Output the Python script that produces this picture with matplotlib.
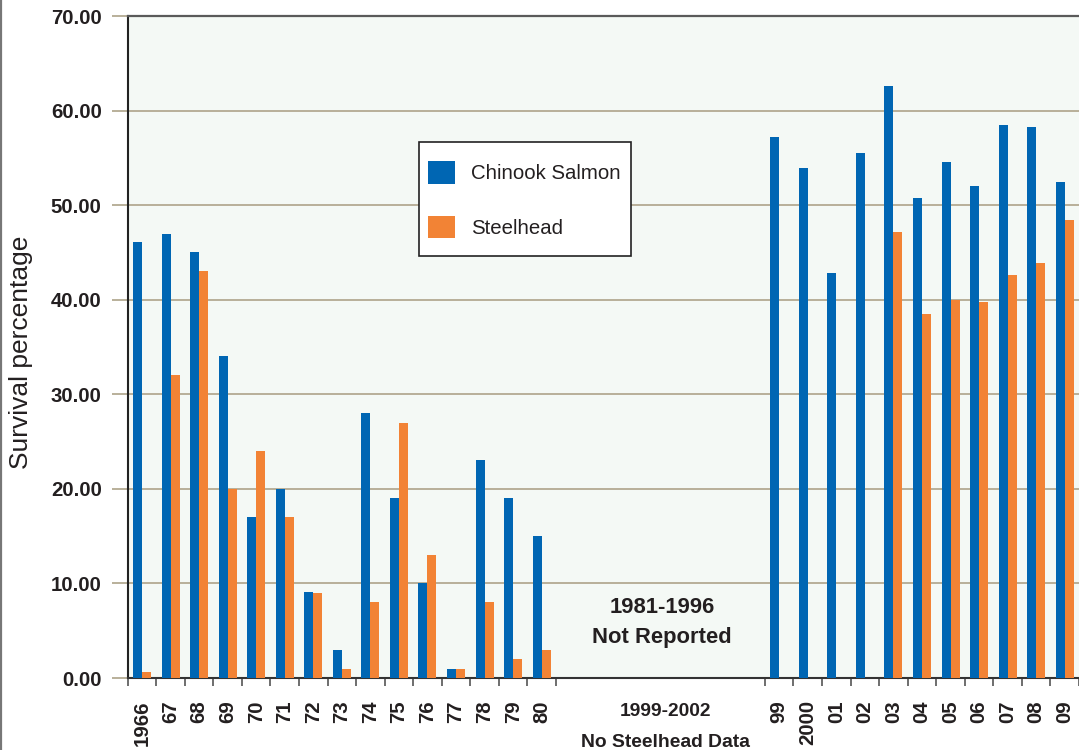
import numpy as np
import matplotlib
matplotlib.use("Agg")
import matplotlib.pyplot as plt
from matplotlib.patches import Patch, Rectangle
from matplotlib.lines import Line2D

plt.rcParams['font.family'] = ['Liberation Sans', 'DejaVu Sans']

# ---- data ----
years_early = ['1966', '67', '68', '69', '70', '71', '72', '73', '74', '75',
               '76', '77', '78', '79', '80']
chinook_early = [46.1, 47.0, 45.0, 34.0, 17.0, 20.0, 9.1, 3.0, 28.0, 19.0,
                 10.0, 1.0, 23.0, 19.0, 15.0]
steelhead_early = [0.6, 32.0, 43.0, 20.0, 24.0, 17.0, 9.0, 1.0, 8.0, 27.0,
                   13.0, 1.0, 8.0, 2.0, 3.0]
years_late = ['99', '2000', '01', '02', '03', '04', '05', '06', '07', '08', '09']
chinook_late = [57.2, 53.9, 42.8, 55.5, 62.6, 50.8, 54.6, 52.0, 58.5, 58.3, 52.4]
steelhead_late = [np.nan, np.nan, np.nan, np.nan, 47.2, 38.5, 40.0, 39.8,
                  42.6, 43.9, 48.4]
series_names = ['Chinook Salmon', 'Steelhead']
y_ticks = [0, 10, 20, 30, 40, 50, 60, 70]

# ---- style ----
BLUE = '#0066b3'
ORANGE = '#f28335'
TXT = '#231f20'
GRID = '#b3aa92'
BG = '#f4f9f5'
W, H = 1079, 750

fig = plt.figure(figsize=(W / 100, H / 100), dpi=100)
ax_l, ax_r, ax_t, ax_b = 127.7, 1079, 16, 678
ax = fig.add_axes([ax_l / W, 1 - ax_b / H, (ax_r - ax_l) / W, (ax_b - ax_t) / H])
ax.set_facecolor(BG)

gap_start = 22.32
pos_early = np.arange(len(years_early))
pos_late = gap_start + np.arange(len(years_late))
bw = 0.315

ax.bar(pos_early - bw / 2, chinook_early, width=bw, color=BLUE, zorder=3)
ax.bar(pos_early + bw / 2, steelhead_early, width=bw, color=ORANGE, zorder=3)
ax.bar(pos_late - bw / 2, chinook_late, width=bw, color=BLUE, zorder=3)
ax.bar(pos_late + bw / 2, steelhead_late, width=bw, color=ORANGE, zorder=3)

ax.set_xlim(-0.5, (ax_r - 142.0) / 28.65)
ax.set_ylim(0, 70)

# y axis
ax.set_yticks(y_ticks)
ax.set_yticklabels(['%.2f' % v for v in y_ticks], fontsize=14.7,
                   fontweight='bold', color=TXT)
ax.tick_params(axis='y', length=11.5, width=1.3, color=GRID, pad=7.2)
ax.yaxis.grid(True, color=GRID, linewidth=1.3, zorder=1)
ax.set_axisbelow(True)

# x axis: labels at slot centres, tick marks at slot boundaries
centers = np.concatenate([pos_early, pos_late])
ax.set_xticks(centers)
ax.set_xticklabels(years_early + years_late, rotation=90, fontsize=14.7,
                   fontweight='bold', color=TXT)
ax.tick_params(axis='x', which='major', length=0, pad=16)
bounds = np.concatenate([np.arange(len(years_early) + 1) - 0.5,
                         gap_start - 0.5 + np.arange(len(years_late) + 1)])
ax.set_xticks(bounds, minor=True)
ax.tick_params(axis='x', which='minor', length=6, width=1.2, color='#555555')

ax.spines['right'].set_visible(False)
ax.spines['top'].set_color('#5a5a5a')
ax.spines['top'].set_linewidth(1.6)
ax.spines['left'].set_color('#222222')
ax.spines['left'].set_linewidth(1.5)
ax.spines['bottom'].set_color('#333333')
ax.spines['bottom'].set_linewidth(1.5)

# y label
ax.set_ylabel('Survival percentage', fontsize=19, color=TXT, va='center')
ax.yaxis.set_label_coords((20.5 - ax_l) / (ax_r - ax_l), 0.5 - (352 - 347) / 662)

# annotations
xmid = (664 - 142.0) / 28.65
ax.text(xmid, (ax_b - 613) / 9.457, '1981-1996', ha='center', va='baseline',
        fontsize=15.8, fontweight='bold', color=TXT, zorder=4)
ax.text(xmid, (ax_b - 643) / 9.457, 'Not Reported', ha='center', va='baseline',
        fontsize=15.8, fontweight='bold', color=TXT, zorder=4)
xmid2 = (667.6 - 142.0) / 28.65
tr = ax.get_xaxis_transform()
ax.text(xmid2, (ax_b - 716) / (ax_b - ax_t), '1999-2002', transform=tr,
        ha='center', va='baseline', fontsize=13.9, fontweight='bold',
        color=TXT, clip_on=False)
ax.text(xmid2, (ax_b - 746.7) / (ax_b - ax_t), 'No Steelhead Data', transform=tr,
        ha='center', va='baseline', fontsize=13.9, fontweight='bold',
        color=TXT, clip_on=False)

# legend (frame drawn separately)
fs_px = 20.4
handles = [Patch(facecolor=BLUE, edgecolor='none', label=series_names[0]),
           Patch(facecolor=ORANGE, edgecolor='none', label=series_names[1])]
leg = ax.legend(handles=handles, loc='upper left',
                bbox_to_anchor=(428.3 / W, 1 - 161 / H),
                bbox_transform=fig.transFigure, frameon=False,
                fontsize=14.7, borderpad=0, borderaxespad=0,
                handlelength=27 / fs_px, handleheight=27 / fs_px,
                handletextpad=15.7 / fs_px, labelspacing=32 / fs_px)
for t in leg.get_texts():
    t.set_color(TXT)
leg.set_zorder(6)
frame = Rectangle((419 / W, 1 - 255.7 / H), (630.7 - 419) / W, (255.7 - 141.7) / H,
                  transform=fig.transFigure, facecolor='white',
                  edgecolor='#222222', linewidth=1.2, zorder=5)
frame.set_clip_on(False)
ax.add_artist(frame)

# left border of figure
fig.add_artist(Line2D([0.8 / W, 0.8 / W], [0, 1], transform=fig.transFigure,
                      color='#777777', linewidth=1.6))

fig.savefig('out.png', dpi=100, facecolor='white')
